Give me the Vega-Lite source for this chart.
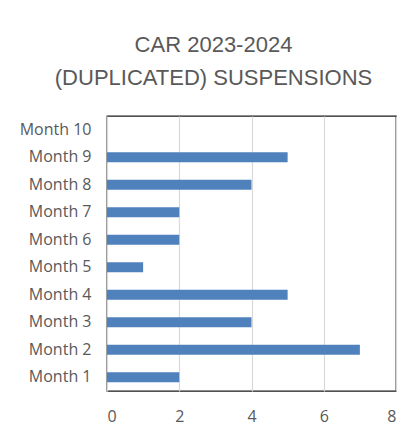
{
  "$schema": "https://vega.github.io/schema/vega-lite/v6.json",
  "width": 289,
  "height": 275,
  "autosize": "none",
  "padding": {"left": 107, "top": 116, "right": 18, "bottom": 43},
  "background": "white",
  "title": {
    "text": ["CAR 2023-2024", "(DUPLICATED) SUSPENSIONS"],
    "font": "Liberation Sans",
    "fontSize": 22,
    "fontWeight": "normal",
    "color": "#595959",
    "anchor": "middle",
    "frame": "group",
    "dx": -38,
    "lineHeight": 33,
    "baseline": "alphabetic",
    "offset": 9
  },
  "data": {
    "values": [
      {"month": "Month 1", "suspensions": 2},
      {"month": "Month 2", "suspensions": 7},
      {"month": "Month 3", "suspensions": 4},
      {"month": "Month 4", "suspensions": 5},
      {"month": "Month 5", "suspensions": 1},
      {"month": "Month 6", "suspensions": 2},
      {"month": "Month 7", "suspensions": 2},
      {"month": "Month 8", "suspensions": 4},
      {"month": "Month 9", "suspensions": 5},
      {"month": "Month 10", "suspensions": 0}
    ]
  },
  "mark": {"type": "bar", "color": "#4F81BD"},
  "encoding": {
    "y": {
      "field": "month",
      "type": "nominal",
      "sort": ["Month 10", "Month 9", "Month 8", "Month 7", "Month 6", "Month 5", "Month 4", "Month 3", "Month 2", "Month 1"],
      "scale": {"paddingInner": 0.64, "paddingOuter": 0.32},
      "axis": {
        "title": null,
        "domain": false,
        "ticks": false,
        "labelPadding": 16,
        "labelFont": "Open Sans",
        "labelFontSize": 16,
        "labelColor": "#595959"
      }
    },
    "x": {
      "field": "suspensions",
      "type": "quantitative",
      "scale": {"domain": [0, 8], "nice": false},
      "axis": {
        "title": null,
        "values": [0, 2, 4, 6, 8],
        "domain": false,
        "ticks": false,
        "grid": true,
        "gridColor": "#D9D9D9",
        "gridWidth": 1.2,
        "labelPadding": 17,
        "labelFont": "Open Sans",
        "labelFontSize": 16,
        "labelColor": "#595959"
      }
    }
  },
  "config": {
    "view": {"stroke": "#1a1a1a", "strokeWidth": 1.3}
  }
}
